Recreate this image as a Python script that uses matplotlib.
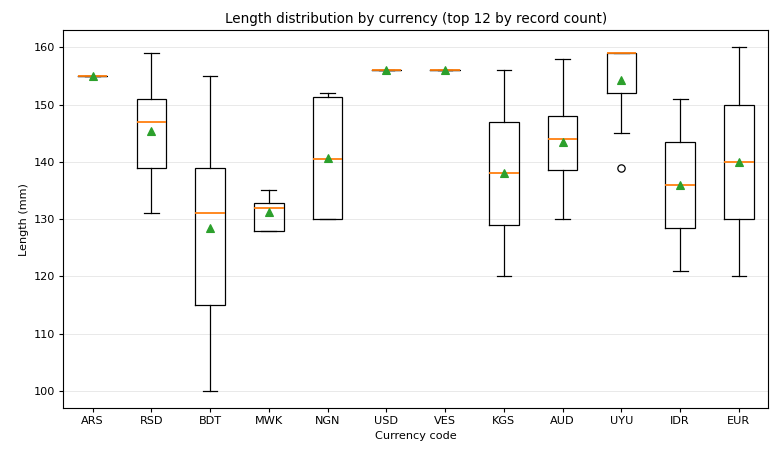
import matplotlib
matplotlib.use("Agg")
import matplotlib.pyplot as plt

currencies = ["ARS", "RSD", "BDT", "MWK", "NGN", "USD", "VES", "KGS", "AUD", "UYU", "IDR", "EUR"]
whislo = [155, 131, 100, 128, 130, 156, 156, 120, 130, 145, 121, 120]
q1 = [155, 139, 115, 128, 130, 156, 156, 129, 138.5, 152, 128.5, 130]
medians = [155, 147, 131, 132, 140.5, 156, 156, 138, 144, 159, 136, 140]
q3 = [155, 151, 139, 132.75, 151.25, 156, 156, 147, 148, 159, 143.5, 150]
whishi = [155, 159, 155, 135, 152, 156, 156, 156, 158, 159, 151, 160]
means = [155, 145.3, 128.4, 131.2, 140.7, 156, 156, 138, 143.5, 154.2, 136, 140]
fliers = [[], [], [], [], [], [], [], [], [], [139], [], []]

stats = []
for i, c in enumerate(currencies):
    stats.append(dict(label=c, whislo=whislo[i], q1=q1[i], med=medians[i], q3=q3[i],
                      whishi=whishi[i], mean=means[i], fliers=fliers[i]))

DPI = 81
plt.rcParams["axes.linewidth"] = 1.0
plt.rcParams["xtick.major.width"] = 1.0
plt.rcParams["ytick.major.width"] = 1.0
fig, ax = plt.subplots(figsize=(780 / DPI, 455 / DPI), dpi=DPI)
lw = 1.1
ax.bxp(stats, showmeans=True, showfliers=True,
       boxprops=dict(linewidth=lw, solid_joinstyle="miter"),
       whiskerprops=dict(linewidth=lw),
       capprops=dict(linewidth=lw),
       medianprops=dict(linewidth=1.6, color="C1"),
       meanprops=dict(marker="^", markerfacecolor="C2", markeredgecolor="C2", markersize=6.5),
       flierprops=dict(marker="o", markerfacecolor="none", markeredgecolor="black",
                       markersize=6.5, markeredgewidth=1.1))
ax.set_title("Length distribution by currency (top 12 by record count)")
ax.set_xlabel("Currency code")
ax.set_ylabel("Length (mm)")
ax.yaxis.grid(True, alpha=0.3)
ax.set_axisbelow(True)
fig.subplots_adjust(left=0.081, right=0.985, top=0.934, bottom=0.103)
fig.savefig("out.png", dpi=DPI)
